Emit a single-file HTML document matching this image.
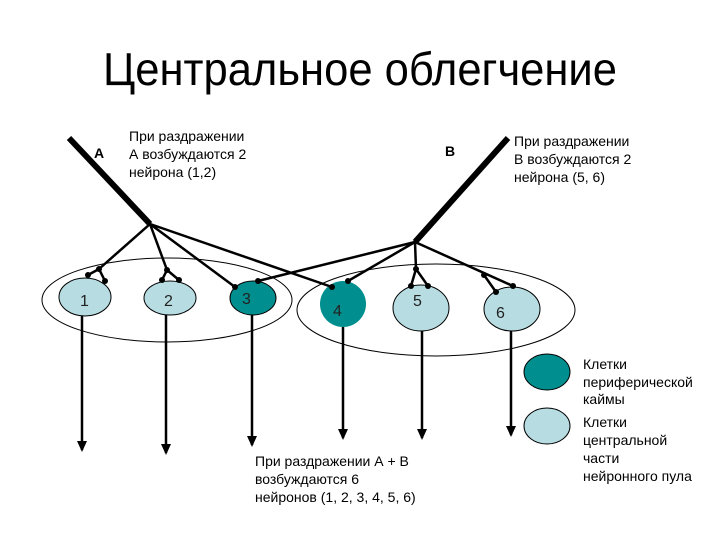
<!DOCTYPE html>
<html><head><meta charset="utf-8"><style>html,body{margin:0;padding:0;background:#fff}svg{display:block}</style></head>
<body>
<svg width="720" height="540" viewBox="0 0 720 540" xmlns="http://www.w3.org/2000/svg" font-family="Liberation Sans, sans-serif">
<defs><marker id="ar" markerWidth="12" markerHeight="10" refX="9" refY="5" orient="auto" markerUnits="userSpaceOnUse"><path d="M0,0 L11,5 L0,10 Z" fill="#000"/></marker></defs>
<text x="103" y="85" font-size="46" textLength="514" lengthAdjust="spacingAndGlyphs">Центральное облегчение</text>
<ellipse cx="167" cy="300" rx="125" ry="42" fill="none" stroke="#000" stroke-width="1"/>
<ellipse cx="436" cy="310" rx="139" ry="46" fill="none" stroke="#000" stroke-width="1"/>
<g stroke="#000" stroke-width="1">
<ellipse cx="85" cy="297" rx="26" ry="19" fill="#b7dde3"/>
<ellipse cx="170" cy="298" rx="26" ry="17" fill="#b7dde3"/>
<ellipse cx="253" cy="298" rx="23" ry="17" fill="#008e8e"/>
<ellipse cx="421" cy="308" rx="28" ry="23" fill="#b7dde3"/>
<ellipse cx="512" cy="309" rx="28" ry="22" fill="#b7dde3"/>
<ellipse cx="547" cy="372" rx="23" ry="18" fill="#008e8e"/>
<ellipse cx="547" cy="426" rx="23" ry="18" fill="#b7dde3"/>
</g>
<ellipse cx="343" cy="304" rx="23" ry="23" fill="#008e8e"/>
<g font-size="16" fill="#222">
<text x="80" y="306">1</text><text x="164" y="306">2</text><text x="242" y="304">3</text>
<text x="333" y="316">4</text><text x="413" y="306">5</text><text x="496" y="318">6</text>
</g>
<line x1="69" y1="138" x2="150" y2="224" stroke="#000" stroke-width="6"/>
<line x1="508" y1="138" x2="415" y2="242" stroke="#000" stroke-width="6"/>
<g stroke="#000" stroke-width="2.5" fill="none" stroke-linecap="round">
<polyline points="150,224 99,269"/><polyline points="88,275 99,269 105,281"/>
<polyline points="150,224 167,270"/><polyline points="162,280 167,270 179,280"/>
<line x1="150" y1="224" x2="235" y2="287"/>
<line x1="150" y1="224" x2="332" y2="287"/>
<line x1="415" y1="242" x2="258" y2="281"/>
<line x1="415" y1="242" x2="348" y2="281"/>
<polyline points="415,242 416,269"/><polyline points="411,286 416,269 428,286"/>
<line x1="415" y1="242" x2="513" y2="286"/>
<line x1="484" y1="275" x2="496" y2="292"/>
</g>
<g fill="#000">
<circle cx="99" cy="269" r="3"/><circle cx="88" cy="275" r="3"/><circle cx="105" cy="281" r="3"/>
<circle cx="167" cy="270" r="3"/><circle cx="162" cy="280" r="3"/><circle cx="179" cy="280" r="3"/>
<circle cx="235" cy="287" r="3"/><circle cx="258" cy="281" r="3"/>
<circle cx="332" cy="287" r="3"/><circle cx="348" cy="281" r="3"/>
<circle cx="416" cy="269" r="3"/><circle cx="411" cy="286" r="3"/><circle cx="428" cy="286" r="3"/>
<circle cx="484" cy="275" r="3"/><circle cx="513" cy="286" r="3"/><circle cx="496" cy="292" r="3"/>
</g>
<g stroke="#000" stroke-width="2.5" marker-end="url(#ar)">
<line x1="82" y1="316" x2="82" y2="450"/>
<line x1="166" y1="315" x2="166" y2="453"/>
<line x1="252" y1="315" x2="252" y2="445"/>
<line x1="343" y1="327" x2="343" y2="438"/>
<line x1="422" y1="331" x2="422" y2="438"/>
<line x1="511" y1="331" x2="511" y2="435"/>
</g>
<g font-size="14" font-weight="bold"><text x="94" y="158">A</text><text x="445" y="156">B</text></g>
<g font-size="14" fill="#000">
<text x="129" y="141">При раздражении</text><text x="129" y="159">А возбуждаются  2</text><text x="129" y="177">нейрона (1,2)</text>
<text x="514" y="146">При раздражении</text><text x="514" y="164">В возбуждаются  2</text><text x="514" y="182">нейрона (5, 6)</text>
<text x="255" y="466">При раздражении А + В</text><text x="255" y="484">возбуждаются  6</text><text x="255" y="502">нейронов (1, 2, 3, 4, 5, 6)</text>
<text x="583" y="369">Клетки</text><text x="583" y="387">периферической</text><text x="583" y="404">каймы</text>
<text x="583" y="427">Клетки</text><text x="583" y="445">центральной</text><text x="583" y="463">части</text><text x="583" y="481">нейронного пула</text>
</g>
</svg>
</body></html>
